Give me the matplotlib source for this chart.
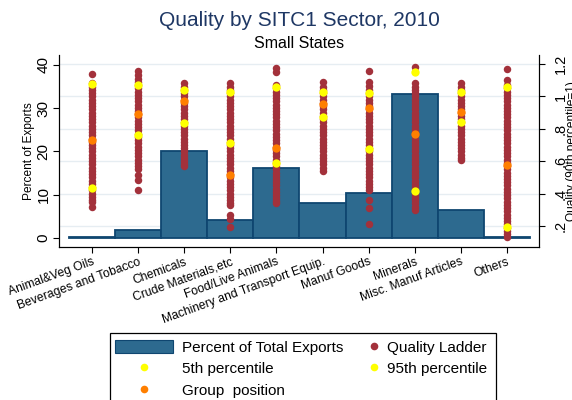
import matplotlib
matplotlib.use("Agg")
import matplotlib.pyplot as plt
from matplotlib.patches import Patch, Rectangle
from matplotlib.lines import Line2D

plt.rcParams['font.family'] = ['Liberation Sans', 'DejaVu Sans']

# ---------------- data ----------------
sectors = ["Animal&Veg Oils", "Beverages and Tobacco", "Chemicals", "Crude Materials,etc",
           "Food/Live Animals", "Machinery and Transport Equip.", "Manuf Goods", "Minerals",
           "Misc. Manuf Articles", "Others"]

export_share = [0.2, 1.8, 20.0, 4.2, 16.1, 8.1, 10.5, 33.3, 6.5, 0.3]

ladder_animal = [1.14, 1.08, 1.06, 1.04, 1.02, 1.00, 0.98, 0.96, 0.94, 0.92, 0.90, 0.88, 0.86,
                 0.84, 0.82, 0.80, 0.78, 0.76, 0.74, 0.72, 0.70, 0.68, 0.66, 0.64, 0.62, 0.60,
                 0.58, 0.56, 0.54, 0.52, 0.50, 0.48, 0.46, 0.44, 0.42, 0.40, 0.38, 0.36, 0.345,
                 0.32]
ladder_beverages = [1.16, 1.135, 1.11, 1.09, 1.07, 1.05, 1.03, 1.01, 0.99, 0.97, 0.95, 0.93,
                    0.91, 0.89, 0.87, 0.85, 0.83, 0.81, 0.79, 0.77, 0.75, 0.73, 0.71, 0.69,
                    0.67, 0.65, 0.63, 0.61, 0.59, 0.57, 0.55, 0.515, 0.485, 0.425]
ladder_chemicals = [1.08, 1.06, 1.04, 1.02, 1.00, 0.98, 0.96, 0.94, 0.92, 0.90, 0.88, 0.86,
                    0.84, 0.82, 0.80, 0.78, 0.76, 0.74, 0.72, 0.70, 0.68, 0.66, 0.64, 0.62,
                    0.60, 0.585, 0.57]
ladder_crude = [1.085, 1.06, 1.04, 1.02, 1.00, 0.98, 0.96, 0.94, 0.92, 0.90, 0.88, 0.86, 0.84,
                0.82, 0.80, 0.78, 0.76, 0.74, 0.72, 0.70, 0.68, 0.66, 0.64, 0.62, 0.60, 0.58,
                0.56, 0.54, 0.52, 0.50, 0.48, 0.46, 0.44, 0.42, 0.40, 0.38, 0.36, 0.34, 0.33,
                0.27, 0.245, 0.195]
ladder_food = [1.175, 1.15, 1.07, 1.05, 1.03, 1.01, 0.99, 0.97, 0.95, 0.93, 0.91, 0.89, 0.87,
               0.85, 0.83, 0.81, 0.79, 0.77, 0.75, 0.73, 0.71, 0.69, 0.67, 0.65, 0.63, 0.61,
               0.59, 0.57, 0.55, 0.53, 0.51, 0.49, 0.47, 0.45, 0.43, 0.41, 0.39, 0.37, 0.355,
               0.34]
ladder_machinery = [1.09, 1.06, 1.04, 1.02, 1.00, 0.98, 0.96, 0.94, 0.92, 0.90, 0.88, 0.86,
                    0.84, 0.82, 0.80, 0.78, 0.76, 0.74, 0.72, 0.70, 0.68, 0.66, 0.64, 0.62,
                    0.60, 0.58, 0.56, 0.54]
ladder_manuf = [1.16, 1.09, 1.065, 1.04, 1.02, 1.00, 0.98, 0.96, 0.94, 0.92, 0.90, 0.88, 0.86,
                0.84, 0.82, 0.80, 0.78, 0.76, 0.74, 0.72, 0.70, 0.68, 0.66, 0.64, 0.62, 0.60,
                0.58, 0.56, 0.54, 0.52, 0.50, 0.48, 0.46, 0.44, 0.42, 0.36, 0.31, 0.21]
ladder_minerals = [1.18, 1.08, 1.06, 1.04, 1.02, 1.00, 0.98, 0.96, 0.94, 0.92, 0.90, 0.88,
                   0.86, 0.84, 0.82, 0.80, 0.78, 0.76, 0.74, 0.72, 0.70, 0.68, 0.66, 0.64,
                   0.62, 0.60, 0.58, 0.56, 0.54, 0.52, 0.50, 0.48, 0.46, 0.44, 0.42, 0.40,
                   0.38, 0.36, 0.34, 0.32, 0.30]
ladder_misc = [1.08, 1.06, 1.04, 1.02, 1.00, 0.98, 0.96, 0.94, 0.92, 0.90, 0.88, 0.86, 0.84,
               0.82, 0.80, 0.78, 0.76, 0.74, 0.72, 0.70, 0.68, 0.66, 0.64, 0.62, 0.605]
ladder_others = [1.17, 1.10, 1.07, 1.05, 1.03, 1.01, 0.99, 0.97, 0.95, 0.93, 0.91, 0.89, 0.87,
                 0.85, 0.83, 0.81, 0.79, 0.77, 0.75, 0.73, 0.71, 0.69, 0.67, 0.65, 0.63, 0.61,
                 0.59, 0.57, 0.55, 0.53, 0.51, 0.49, 0.47, 0.45, 0.43, 0.41, 0.39, 0.37, 0.35,
                 0.33, 0.31, 0.29, 0.27, 0.25, 0.23, 0.21, 0.19, 0.17, 0.15, 0.13]

ladders = [ladder_animal, ladder_beverages, ladder_chemicals, ladder_crude, ladder_food,
           ladder_machinery, ladder_manuf, ladder_minerals, ladder_misc, ladder_others]

p5 = [0.437, 0.759, 0.837, 0.713, 0.590, 0.870, 0.674, 0.416, 0.843, 0.194]
p95 = [1.076, 1.070, 1.039, 1.029, 1.060, 1.029, 1.023, 1.148, 1.029, 1.056]
group_pos = [0.734, 0.891, 0.971, 0.513, 0.682, 0.951, 0.930, 0.771, 0.905, 0.575]

pct_ticks = [0, 10, 20, 30, 40]
q_ticks = [0.2, 0.4, 0.6, 0.8, 1.0, 1.2]
q_tick_labels = [".2", ".4", ".6", ".8", "1", "1.2"]

# ---------------- style ----------------
BAR = '#2d6a8f'
BAR_EDGE = '#0f4670'
RED = '#a3313b'
YEL = '#ffff00'
ORA = '#ff7f00'
GRID = '#e6edf2'
NAVY = '#1e3764'

W, H = 572, 400
fig = plt.figure(figsize=(W / 100, H / 100), dpi=100)
fig.patch.set_facecolor('white')

x0, x1, ytop, ybot = 59, 539, 55, 247
ax = fig.add_axes([x0 / W, 1 - ybot / H, (x1 - x0) / W, (ybot - ytop) / H])
ax2 = ax.twinx()

ax.set_xlim(-0.716, 9.696)
ax.set_ylim(-2.1, 42.3)
ax2.set_ylim(0.07, 1.256)

# gridlines (quality axis ticks) behind bars
for q in q_ticks:
    ax.plot([-0.716, 9.696], [q, q], transform=ax2.transData, color=GRID, lw=1.0, zorder=0)

xs = list(range(len(sectors)))
ax.bar(xs, export_share, width=1.0, color=BAR, edgecolor=BAR_EDGE, linewidth=1.3, zorder=2)

for i, vals in enumerate(ladders):
    ax2.scatter([i] * len(vals), vals, s=29, color=RED, linewidths=0, zorder=2)
ax2.scatter(xs, p5, s=36, color=YEL, linewidths=0, zorder=3)
ax2.scatter(xs, p95, s=36, color=YEL, linewidths=0, zorder=3)
ax2.scatter(xs, group_pos, s=36, color=ORA, linewidths=0, zorder=3)

# axes styling
for a in (ax, ax2):
    a.spines['top'].set_visible(False)
    for s in ('left', 'right', 'bottom'):
        a.spines[s].set_linewidth(0.8)
ax.set_yticks(pct_ticks)
ax.set_yticklabels([str(t) for t in pct_ticks], rotation=90, va='center', fontsize=11)
ax.tick_params(axis='y', length=4.5, width=0.8, pad=1.5)
ax2.set_yticks(q_ticks)
ax2.set_yticklabels(q_tick_labels, rotation=90, va='center', fontsize=10.5)
ax2.tick_params(axis='y', length=4.5, width=0.8, pad=6)

ax.set_xticks(xs)
ax.set_xticklabels(sectors, rotation=20, ha='right', rotation_mode='anchor', fontsize=8.7)
ax.tick_params(axis='x', length=4.5, width=0.8, pad=2)

# titles
fig.text(299 / W, 1 - 20 / H, "Quality by SITC1 Sector, 2010", ha='center', va='center',
         fontsize=15, color=NAVY)
fig.text(299 / W, 1 - 43 / H, "Small States", ha='center', va='center', fontsize=11.5,
         color='black')
fig.text(29 / W, 1 - 151 / H, "Percent of Exports", rotation=90, ha='center', va='center',
         fontsize=8.6)
fig.text(566.5 / W, 1 - 151 / H, "Quality (90th percentile=1)", rotation=90, ha='left',
         va='center', fontsize=8.6)

# legend
frame = Rectangle((109.5 / W, -5 / H), (496 - 109.5) / W, (400 + 5 - 332.5) / H,
                  transform=fig.transFigure, facecolor='white', edgecolor='black', lw=0.9)
fig.patches.append(frame)

h_bar = Patch(facecolor=BAR, edgecolor=BAR_EDGE, linewidth=0.8)
h_p5 = Line2D([], [], marker='o', ls='', color=YEL, markersize=5.5, markeredgewidth=0)
h_grp = Line2D([], [], marker='o', ls='', color=ORA, markersize=5.5, markeredgewidth=0)
h_lad = Line2D([], [], marker='o', ls='', color=RED, markersize=5.5, markeredgewidth=0)
h_p95 = Line2D([], [], marker='o', ls='', color=YEL, markersize=5.5, markeredgewidth=0)

leg1 = fig.legend([h_bar, h_p5, h_grp], ["Percent of Total Exports", "5th percentile",
                                         "Group  position"],
                  loc='upper left', bbox_to_anchor=(115 / W, 1 - 339.5 / H), frameon=False,
                  fontsize=11, handlelength=3.8, handleheight=1.0, handletextpad=0.6,
                  labelspacing=0.42, borderpad=0, borderaxespad=0)
leg2 = fig.legend([h_lad, h_p95], ["Quality Ladder", "95th percentile"],
                  loc='upper left', bbox_to_anchor=(367.5 / W, 1 - 339.5 / H), frameon=False,
                  fontsize=11, handlelength=0.9, handleheight=1.0, handletextpad=0.4,
                  labelspacing=0.42, borderpad=0, borderaxespad=0)

fig.savefig("out.png", dpi=100, facecolor='white')
